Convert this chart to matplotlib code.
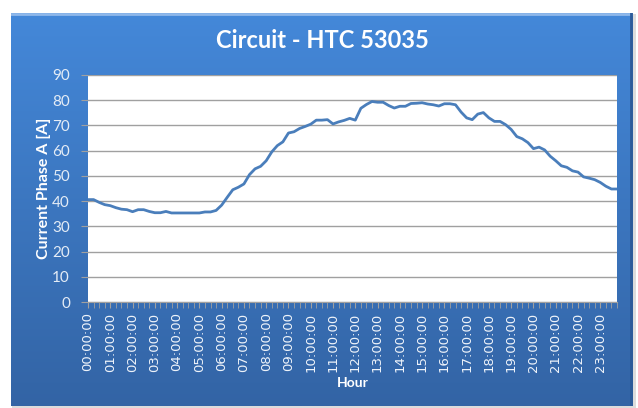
import numpy as np
import matplotlib.pyplot as plt

# 15 minute readings, 00:00 .. 23:45
current_a = [40.6, 40.6, 39.5, 38.6, 38.2, 37.4, 36.8, 36.6, 35.8, 36.6, 36.6, 35.9,
             35.4, 35.4, 35.9, 35.3, 35.3, 35.3, 35.3, 35.3, 35.3, 35.7, 35.7, 36.3,
             38.4, 41.5, 44.5, 45.5, 46.8, 50.5, 52.8, 53.8, 56.0, 59.5, 62.0, 63.5,
             67.0, 67.5, 68.8, 69.6, 70.5, 72.1, 72.1, 72.3, 70.6, 71.4, 72.0, 72.8,
             72.1, 76.8, 78.3, 79.5, 79.2, 79.2, 77.9, 76.9, 77.6, 77.6, 78.7, 78.8,
             79.0, 78.5, 78.2, 77.7, 78.6, 78.6, 78.2, 75.3, 73.0, 72.3, 74.5, 75.1,
             73.0, 71.6, 71.6, 70.3, 68.4, 65.6, 64.7, 63.2, 60.8, 61.4, 60.3, 57.8,
             56.0, 54.0, 53.4, 52.0, 51.5, 49.6, 49.1, 48.5, 47.4, 45.9, 44.8, 44.8]
hour_labels = ['%02d:00:00' % h for h in range(24)]
y_ticks = list(range(0, 91, 10))

W, H = 638, 408
fig = plt.figure(figsize=(W / 100, H / 100), dpi=100)
fig.patch.set_facecolor('white')

# soft grey shadow behind the chart area
sh = fig.add_axes([12 / W, 0, 624 / W, 394 / H])
sh.set_facecolor('#dcdcdc')
sh.set_xticks([]); sh.set_yticks([])
for s in sh.spines.values():
    s.set_visible(False)

# blue chart area with vertical gradient
bg = fig.add_axes([11 / W, 1 - 406 / H, 622 / W, 393 / H])
grad = np.linspace(0, 1, 256).reshape(-1, 1)
top = np.array([0x44, 0x88, 0xd9]) / 255
bot = np.array([0x33, 0x64, 0xa5]) / 255
img = top + (bot - top) * grad[:, :, None]
bg.imshow(img, aspect='auto', extent=[0, 1, 0, 1])
bg.axhline(0.997, color='#8fb8ea', lw=2)
bg.axvline(0.997, color='#2c5b99', lw=2)
bg.set_xlim(0, 1); bg.set_ylim(0, 1)
bg.set_axis_off()

ax = fig.add_axes([88 / W, 1 - 302 / H, 529 / W, 227 / H])
ax.set_facecolor('white')
x = np.arange(len(current_a))
ax.plot(x, current_a, color='#4a7ebb', lw=2.0, solid_joinstyle='round')

ax.set_xlim(0, len(current_a) - 1)
ax.set_ylim(0, 90)
ax.set_yticks(y_ticks)
ax.set_yticklabels([str(v) for v in y_ticks], family='Lato')
ax.set_xticks(x, minor=True)
ax.set_xticks(x[::4])
ax.set_xticklabels(hour_labels, rotation=90, color='#eef3fa', fontsize=9.5)
ax.tick_params(axis='x', which='both', length=4, color='#a0a0a0')
ax.tick_params(axis='y', length=5, color='#a0a0a0', labelcolor='#e4ecf6', labelsize=11, pad=8)
ax.grid(axis='y', color='#a0a0a0', lw=1)
ax.set_axisbelow(True)
for s in ['top', 'right', 'left']:
    ax.spines[s].set_visible(False)
ax.spines['bottom'].set_color('#a0a0a0')

ax.set_ylabel('Current Phase A [A]', color='white', fontsize=11.5, fontweight='bold',
              family='Lato', labelpad=1)
ax.set_xlabel('Hour', color='white', fontsize=10, fontweight='bold', family='Lato', labelpad=4)
fig.text(322 / W, 1 - 40 / H, 'Circuit - HTC 53035', color='white', fontsize=17,
         fontweight='bold', family='Lato', ha='center', va='center')

fig.savefig('out.png', dpi=100)
